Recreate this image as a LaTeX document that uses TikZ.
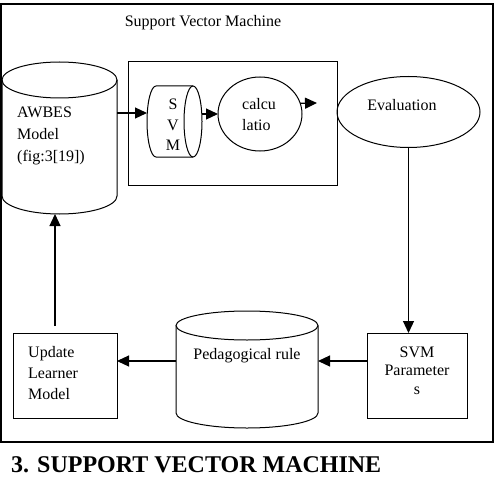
\documentclass[tikz,border=0pt]{standalone}
\usepackage{fontspec}
\setmainfont{Liberation Serif}
\usetikzlibrary{arrows.meta,shapes.geometric}
\begin{document}
\begin{tikzpicture}[x=1pt,y=1pt,
  shp/.style={draw, line width=1pt},
  arr/.style={line width=1.2pt, -{Triangle[length=12pt,width=11pt]}},
  lbl/.style={font=\fontsize{16}{21}\selectfont, inner sep=0pt},
  anc/.style={inner sep=0pt, outer sep=0pt}]
\useasboundingbox (0,0) rectangle (497,480);
\draw[line width=1.3pt] (1,38) rectangle (493,476);
\node[lbl] (title) at (203,457) {Support Vector Machine};
\node[shp, anc, minimum width=209pt, minimum height=123pt] (inner) at (232.5,356.5) {};
% AWBES cylinder
\node[anc, minimum width=115pt, minimum height=152pt] (awbes) at (59.5,342) {};
\draw[shp] (2,400) -- (2,284) arc (180:360:57.5pt and 18pt) -- (117,400);
\draw[shp] (59.5,400) ellipse (57.5pt and 18pt);
\node[lbl, align=left, anchor=west, font=\fontsize{16}{22}\selectfont] (awbestxt) at (17,344) {AWBES\\Model\\(fig:3[19])};
% SVM cylinder
\node[anc, minimum width=55pt, minimum height=71pt] (svm) at (174.5,358.5) {};
\draw[shp] (193,394) -- (156,394) arc (90:270:9pt and 35.5pt) -- (193,323);
\draw[shp] (193,358.5) ellipse (9pt and 35.5pt);
\node[lbl, align=center, font=\fontsize{16}{20.5}\selectfont] (svmtxt) at (173,355) {S\\V\\M};
% calculation
\node[shp, ellipse, anc, minimum width=84pt, minimum height=74pt] (calc) at (260,366) {};
\node[lbl, align=left, anchor=west] (calctxt) at (242,365) {calcu\\latio};
\coordinate (calcout) at (317,377);
% evaluation
\node[shp, ellipse, anc, minimum width=143pt, minimum height=71pt] (eval) at (408.5,368) {};
\node[lbl] (evaltxt) at (402,375) {Evaluation};
% params
\node[shp, anc, minimum width=100pt, minimum height=85pt] (params) at (417,104.5) {};
\node[lbl, align=center, font=\fontsize{16}{18.5}\selectfont] (paramstxt) at (417,109.5) {SVM\\Parameter\\s};
% pedagogical
\node[anc, minimum width=142pt, minimum height=117pt] (peda) at (247,110.5) {};
\draw[shp] (176,154.5) -- (176,67) arc (180:360:71pt and 15pt) -- (318,154.5);
\draw[shp] (247,154.5) ellipse (71pt and 14.5pt);
\node[lbl] (pedatxt) at (247,124) {Pedagogical rule};
% update
\node[shp, anc, minimum width=104pt, minimum height=85pt] (upd) at (65,104.5) {};
\node[lbl, align=left, anchor=west] (updtxt) at (28,107) {Update\\Learner\\Model};
% arrows
\draw[arr] ([yshift=25pt]awbes.east) -- ([yshift=8.5pt]svm.west);
\draw[arr] ([yshift=7.5pt]svm.east) -- (calc.west);
\draw[arr] (calc.15) -- (calcout);
\draw[arr] (eval.south) -- (eval.south |- params.north);
\draw[arr] ([yshift=14.5pt]params.west) -- ([yshift=8.5pt]peda.east);
\draw[arr] ([yshift=8.5pt]peda.west) -- ([yshift=14.5pt]upd.east);
\draw[arr] ([xshift=-10pt,yshift=7pt]upd.north) -- ([xshift=-4.5pt]awbes.south);
% caption
\node[anchor=base west, inner sep=0pt, font=\bfseries\fontsize{24}{28}\selectfont] (cap) at (11,8) {3. SUPPORT VECTOR MACHINE};
\end{tikzpicture}
\end{document}
